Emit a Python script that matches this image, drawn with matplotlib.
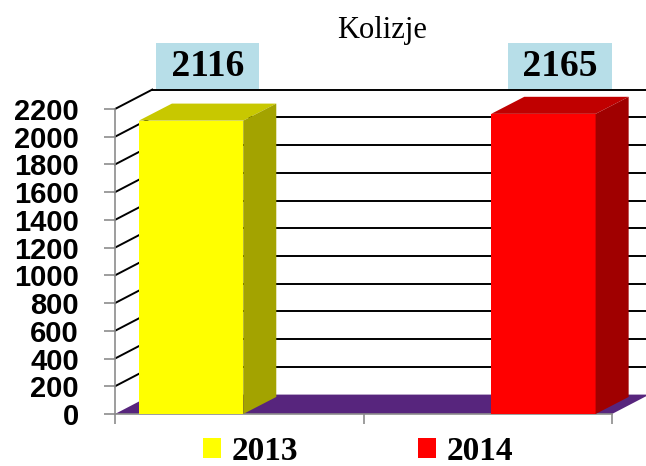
import numpy as np
import matplotlib.pyplot as plt
from matplotlib.patches import Polygon, Rectangle, Patch


# ============================================================
# Data
# ============================================================

YEARS = ["2013", "2014"]
COLLISIONS = [2116, 2165]

FRONT_COLORS = ["#FFFF00", "#FF0000"]
TOP_COLORS = ["#C8C800", "#C00000"]
SIDE_COLORS = ["#A3A300", "#A00000"]

Y_TICKS = list(range(0, 2201, 200))


# ============================================================
# Style / layout
# ============================================================

FLOOR_COLOR = "#57257D"
LABEL_BOX_COLOR = "#B7DEE8"
AXIS_GRAY = "#8C8C8C"

N_SLOTS = 2
WALL_DX, WALL_DY = 0.15, 140      # depth of floor / walls (x units, value units)
BAR_DX, BAR_DY = 0.133, 123       # depth of bars
BAR_WIDTH = 0.42
BAR_MID = 1.015                   # middle between the two bars
BAR_SHIFT = 0.709                 # distance of bar centers from the middle
LABEL_Y = 2510

SERIF = "Liberation Serif"
SANS = "Liberation Sans"


def draw_bar(ax, center, value, front, top, side):
    x0 = center - BAR_WIDTH / 2
    x1 = center + BAR_WIDTH / 2
    ax.add_patch(Rectangle((x0, 0), BAR_WIDTH, value, facecolor=front,
                           edgecolor="none", zorder=4, clip_on=False))
    ax.add_patch(Polygon([(x0, value), (x1, value),
                          (x1 + BAR_DX, value + BAR_DY), (x0 + BAR_DX, value + BAR_DY)],
                         closed=True, facecolor=top, edgecolor="none",
                         zorder=4, clip_on=False))
    ax.add_patch(Polygon([(x1, 0), (x1 + BAR_DX, BAR_DY),
                          (x1 + BAR_DX, value + BAR_DY), (x1, value)],
                         closed=True, facecolor=side, edgecolor="none",
                         zorder=4, clip_on=False))


def main():
    fig = plt.figure(figsize=(6.46, 4.66), dpi=100)
    ax = fig.add_axes([115 / 646, 52 / 466, 497 / 646, 305 / 466])
    ax.set_xlim(0, N_SLOTS)
    ax.set_ylim(0, Y_TICKS[-1])

    # back wall gridlines + diagonal side wall lines
    for y in Y_TICKS[1:]:
        ax.plot([0, WALL_DX], [y, y + WALL_DY], color="black", lw=1.4,
                zorder=1, clip_on=False)
        ax.plot([WALL_DX, N_SLOTS + WALL_DX], [y + WALL_DY, y + WALL_DY],
                color="black", lw=1.4, zorder=1, clip_on=False)

    # floor
    ax.add_patch(Polygon([(0, 0), (N_SLOTS, 0), (N_SLOTS + WALL_DX, WALL_DY),
                          (WALL_DX, WALL_DY)], closed=True,
                         facecolor=FLOOR_COLOR, edgecolor="none",
                         zorder=2, clip_on=False))

    centers = BAR_MID + np.array([-1, 1]) * BAR_SHIFT
    for i, value in enumerate(COLLISIONS):
        draw_bar(ax, centers[i], value, FRONT_COLORS[i], TOP_COLORS[i], SIDE_COLORS[i])
        ax.text(centers[i] + BAR_DX / 2, LABEL_Y, f" {value} ",
                ha="center", va="center", fontsize=27, fontweight="bold",
                family=SERIF, zorder=6, clip_on=False,
                bbox=dict(boxstyle="square,pad=0.14", facecolor=LABEL_BOX_COLOR,
                          edgecolor="none"))

    # axes
    for side in ["top", "right"]:
        ax.spines[side].set_visible(False)
    for side in ["left", "bottom"]:
        ax.spines[side].set_color(AXIS_GRAY)
        ax.spines[side].set_linewidth(1.2)
        ax.spines[side].set_zorder(3)
    ax.set_yticks(Y_TICKS)
    ax.set_yticklabels([str(v) for v in Y_TICKS], fontsize=21,
                       fontweight="bold", family=SANS)
    ax.tick_params(axis="y", length=8, width=1.2, color=AXIS_GRAY, pad=18)
    ax.set_xticks(range(N_SLOTS + 1))
    ax.set_xticklabels([])
    ax.tick_params(axis="x", length=7, width=1.2, color=AXIS_GRAY)

    # title
    fig.text(382 / 646, 1 - 38 / 466, "Kolizje", ha="center", va="baseline",
             fontsize=22, family=SERIF)

    # legend
    handles = [Patch(facecolor=c, edgecolor="none") for c in FRONT_COLORS]
    fig.legend(handles, YEARS, loc="center", bbox_to_anchor=(358 / 646, 1 - 451 / 466),
               ncol=2, frameon=False, borderpad=0, handlelength=0.55,
               handleheight=0.55, handletextpad=0.3, columnspacing=3.6,
               prop=dict(family=SERIF, weight="bold", size=24))

    fig.savefig("out.png", dpi=100)
    plt.close(fig)


if __name__ == "__main__":
    main()
